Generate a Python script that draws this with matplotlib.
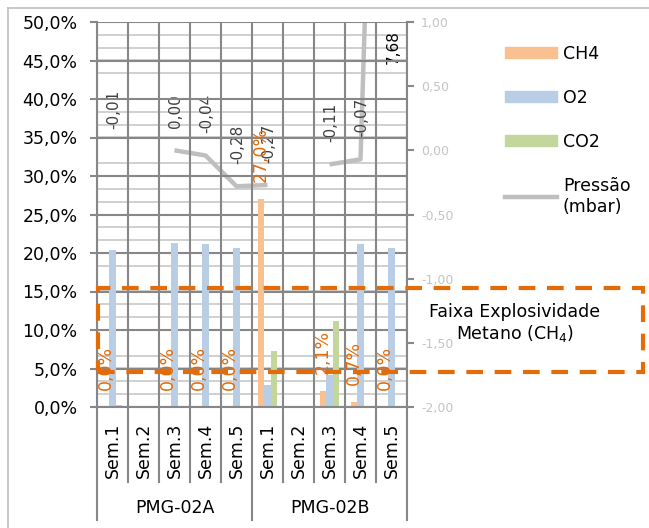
import numpy as np
import matplotlib
matplotlib.use("Agg")
import matplotlib.pyplot as plt
from matplotlib.patches import Rectangle, Patch
from matplotlib.lines import Line2D
import matplotlib.transforms as mtransforms

# dados
semanas = ["Sem.1", "Sem.2", "Sem.3", "Sem.4", "Sem.5"] * 2
pontos = ["PMG-02A", "PMG-02B"]
ch4 = [0.0, np.nan, 0.0, 0.0, 0.0, 27.0, np.nan, 2.1, 0.7, 0.0]
o2 = [20.4, np.nan, 21.3, 21.2, 20.7, 2.8, np.nan, 4.2, 21.2, 20.7]
co2 = [0.3, np.nan, 0.1, 0.1, 0.1, 7.3, np.nan, 11.2, 0.1, 0.1]
pressao = [-0.01, np.nan, 0.00, -0.04, -0.28, -0.27, np.nan, -0.11, -0.07, 7.68]
faixa = (4.6, 15.4)  # faixa explosiva do metano (5% a 15%)

c_ch4 = "#FAC090"
c_o2 = "#B9CDE5"
c_co2 = "#C3D69B"
c_pres = "#BFBFBF"
laranja = "#E36C09"
cinza = "#878787"

plt.rcParams["font.family"] = "DejaVu Sans"

fig = plt.figure(figsize=(6.49, 5.28), dpi=100)
ax = fig.add_axes([97 / 649, 1 - 407 / 528, 310 / 649, 385 / 528])
ax2 = ax.twinx()
# barras por cima da grade do eixo secundario
ax.set_zorder(ax2.get_zorder() + 1)
ax.patch.set_visible(False)

x = np.arange(len(semanas))
w = 0.21
ax.bar(x - w, ch4, w, color=c_ch4, zorder=2)
ax.bar(x, o2, w, color=c_o2, zorder=2)
ax.bar(x + w, co2, w, color=c_co2, zorder=2)

ax.set_xlim(-0.5, len(semanas) - 0.5)
ax.set_ylim(0, 50)
ax.set_yticks(np.arange(0, 51, 5))
ax.set_yticklabels([f"{v:.1f}%".replace(".", ",") for v in np.arange(0, 51, 5)], fontsize=12.5)
ax.tick_params(axis="y", length=5, width=1.5, color=cinza, pad=9)
ax.set_xticks(x)
ax.set_xticklabels(semanas, rotation=90, fontsize=12.5)
ax.tick_params(axis="x", length=0, pad=11)
ax.set_xticks(np.arange(-0.5, len(semanas), 1), minor=True)
ax.tick_params(axis="x", which="minor", length=0)
ax.grid(axis="y", which="major", color=cinza, lw=1.5)
ax.grid(axis="x", which="minor", color=cinza, lw=1.5)
ax.set_axisbelow(True)
for s in ["top", "right"]:
    ax.spines[s].set_visible(False)
ax.spines["left"].set_color(cinza)
ax.spines["left"].set_linewidth(1.5)
ax.spines["bottom"].set_color(cinza)
ax.spines["bottom"].set_linewidth(1.5)

# rotulos do CH4
for xi, v in zip(x, ch4):
    if np.isnan(v):
        continue
    ax.annotate(f"{v:.1f}%".replace(".", ","), (xi - w, v), xytext=(0, 12),
                textcoords="offset points", rotation=90, ha="center", va="bottom",
                color=laranja, fontsize=12.5, zorder=5)

# eixo secundario: pressao
ax2.plot(x, pressao, color=c_pres, lw=3.2, solid_capstyle="butt", zorder=3)
ax2.set_ylim(-2, 1)
ax2.set_yticks(np.arange(-2, 1.01, 0.5))
ax2.set_yticklabels([f"{v:.2f}".replace(".", ",") for v in np.arange(-2, 1.01, 0.5)],
                    fontsize=9, color="#C4C4C4")
ax2.tick_params(axis="y", length=5, width=1.5, color=cinza, pad=5)
ax2.set_yticks(np.arange(-2, 1.01, 0.1), minor=True)
ax2.tick_params(axis="y", which="minor", length=0)
ax2.grid(axis="y", which="minor", color="#CDCDCD", lw=1.3)
ax2.set_axisbelow(True)
for s in ["top", "left", "bottom"]:
    ax2.spines[s].set_visible(False)
ax2.spines["right"].set_color(cinza)
ax2.spines["right"].set_linewidth(1.5)

for xi, v in zip(x, pressao):
    if np.isnan(v):
        continue
    txt = f"{v:.2f}".replace(".", ",")
    if v > 1:
        ax2.annotate(txt, (xi, 1), xytext=(1, -6), textcoords="offset points",
                     rotation=90, ha="center", va="top", color="black", fontsize=11)
    else:
        ax2.annotate(txt, (xi, v), xytext=(1, 16), textcoords="offset points",
                     rotation=90, ha="center", va="bottom", color="#404040", fontsize=11)

# eixo x em dois niveis
tr = ax.get_xaxis_transform()
for b in np.arange(-0.5, len(semanas), 1):
    longo = b in (-0.5, 4.5, 9.5)
    ax.plot([b, b], [0, -0.294 if longo else -0.195], transform=tr, color=cinza,
            lw=1.5, clip_on=False)
for i, p in enumerate(pontos):
    ax.text(i * 5 + 2, -0.262, p, transform=tr, ha="center", va="center", fontsize=12.5)

# faixa explosiva
trf = mtransforms.blended_transform_factory(fig.transFigure, ax.transData)
ax.add_patch(Rectangle((98 / 649, faixa[0]), 545 / 649, faixa[1] - faixa[0],
                       transform=trf, fill=False, ec=laranja, lw=3, ls=(0, (4, 2.8)),
                       clip_on=False, zorder=6))
fig.text(515 / 649, 1 - 312 / 528, "Faixa Explosividade", ha="center", va="center", fontsize=12.5)
fig.text(515 / 649, 1 - 334 / 528, "Metano (CH$_4$)", ha="center", va="center", fontsize=12.5)

# legenda
handles = [Patch(color=c_ch4), Patch(color=c_o2), Patch(color=c_co2),
           Line2D([0], [0], color=c_pres, lw=3.2)]
fig.legend(handles, ["CH4", "O2", "CO2", "Pressão\n(mbar)"], loc="upper left",
           bbox_to_anchor=(489 / 649, 1 - 29 / 528), frameon=False, fontsize=12.5,
           handlelength=3.0, handleheight=0.55, handletextpad=0.35, labelspacing=1.5)

# borda do grafico
fig.add_artist(Line2D([8 / 649, 8 / 649], [0, 1 - 8 / 528], color="#BFBFBF", lw=1.2))
fig.add_artist(Line2D([8 / 649, 1], [1 - 8 / 528, 1 - 8 / 528], color="#BFBFBF", lw=1.2))

fig.savefig("out.png", dpi=100)
